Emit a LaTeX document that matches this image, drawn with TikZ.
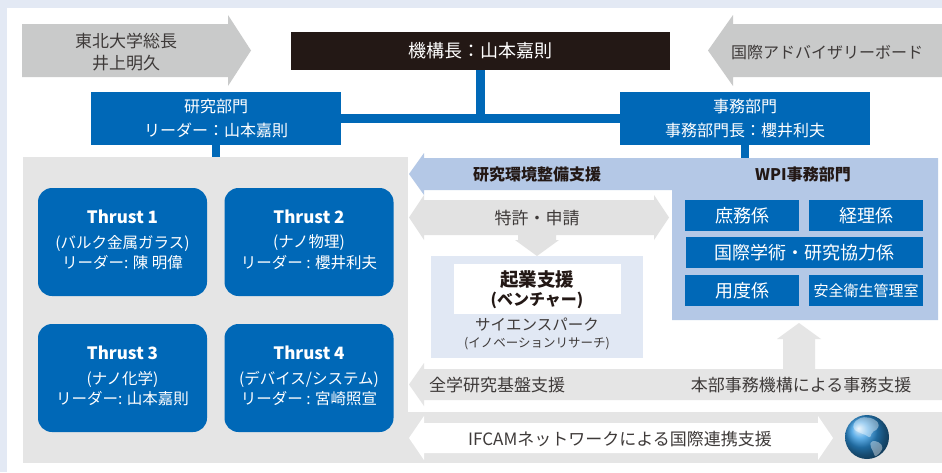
\documentclass[tikz,border=0pt]{standalone}
\usepackage{fontspec}
\setmainfont{Noto Sans CJK JP}

\definecolor{frameblue}{HTML}{E3E9F4}
\definecolor{arrowgray}{HTML}{C9CACA}
\definecolor{inkblack}{HTML}{231815}
\definecolor{corpblue}{HTML}{0068B7}
\definecolor{paleblue}{HTML}{B4C8E6}
\definecolor{bandgray}{HTML}{E5E5E5}
\definecolor{patentgray}{HTML}{E2E2E2}
\definecolor{textgray}{HTML}{3E3A39}
\definecolor{parkblue}{HTML}{E1E8F4}

\newcommand{\fs}[2]{\fontsize{#1}{#2}\selectfont}

\begin{document}
\begin{tikzpicture}[x=1pt,y=-1pt,
  txt/.style={inner sep=0pt, text=textgray, align=center},
  wtxt/.style={inner sep=0pt, text=white, align=center},
  conn/.style={draw=corpblue, line width=8.4pt},
  divbox/.style={fill=corpblue, text=white, align=center, inner sep=0pt,
    minimum width=250pt, minimum height=53pt, font=\fs{16}{24}},
  officebox/.style={fill=corpblue, text=white, inner sep=0pt,
    minimum width=114pt, minimum height=31pt, font=\fs{18}{20}},
  thrustbox/.style={fill=corpblue, rounded corners=14pt, inner sep=0pt,
    minimum width=169pt, minimum height=108pt},
  thead/.style={wtxt, font=\bfseries\fs{17}{20}},
  tline/.style={wtxt, font=\fs{15.5}{18}},
  bandtxt/.style={txt, font=\fs{17}{20}}]

% page frame
\fill[frameblue] (0,0) rectangle (942,472);
\fill[white] (7,8) rectangle (942,472);
\useasboundingbox (0,0) rectangle (942,472);

% external arrows at the top
\fill[arrowgray] (22,24) -- (228,24) -- (228,15) -- (251,50.5) -- (228,86)
  -- (228,77) -- (22,77) -- cycle;
\node[txt, font=\fs{17}{21.5}] (president) at (126,52) {東北大学総長\\井上明久};
\fill[arrowgray] (942,24) -- (733,24) -- (733,15) -- (708,50.5) -- (733,86)
  -- (733,77) -- (942,77) -- cycle;
\node[txt, font=\fs{16}{20}] (board) at (827,52) {国際アドバイザリーボード};

% head of the institute and the two divisions
\node[fill=inkblack, text=white, inner sep=0pt, minimum width=379pt,
  minimum height=38pt, font=\fs{18}{20}] (chief) at (480.5,51) {機構長：山本嘉則};
\node[divbox] (research) at (216,118.5) {研究部門\\リーダー：山本嘉則};
\node[divbox] (admin) at (745,118.5) {事務部門\\事務部門長：櫻井利夫};

% grey research area and bottom band
\fill[bandgray] (23,157) rectangle (408,463);
\fill[bandgray] (408,412) rectangle (942,463);
\coordinate (areatop) at (216,157);

% pale blue WPI office with its support arrow
\fill[paleblue] (409,174) -- (424,153) -- (424,158) -- (938,158) -- (938,320)
  -- (672,320) -- (672,190) -- (424,190) -- (424,195) -- cycle;
\coordinate (wpitop) at (745,158);
\node[txt, text=inkblack, font=\bfseries\fs{16}{20}] (envsupport) at (537,174) {研究環境整備支援};
\node[txt, text=inkblack, font=\bfseries\fs{16}{20}] (wpioffice) at (803,174) {WPI事務部門};

% connectors
\draw[conn] (chief.south) -- (chief.south |- research.east);
\draw[conn] (research.east) -- (admin.west);
\draw[conn, line width=8pt] (research.south) -- (areatop);
\draw[conn, line width=8pt] (admin.south) -- (wpitop);

% office sections
\node[officebox] (general) at (742,215.5) {庶務係};
\node[officebox] (accounting) at (866,215.5) {経理係};
\node[officebox, minimum width=237pt] (intl) at (804.5,252.5) {国際学術・研究協力係};
\node[officebox] (supplies) at (742,290.5) {用度係};
\node[officebox, font=\fs{15}{18}] (safety) at (866,290.5) {安全衛生管理室};

% patents arrow feeding the venture box
\fill[patentgray] (409,217.5) -- (424,195) -- (424,200) -- (654,200) -- (654,195)
  -- (669,217.5) -- (654,240) -- (654,235) -- (556,235) -- (556,240) -- (559,240)
  -- (537,256) -- (515,240) -- (518,240) -- (518,235) -- (424,235) -- (424,240) -- cycle;
\node[txt, font=\fs{17}{20}] (patent) at (537,218) {特許・申請};

% science park
\node[fill=parkblue, inner sep=0pt, minimum width=212pt, minimum height=102pt] (park) at (537,307) {};
\fill[white] (454,264) rectangle (621,314);
\node[txt, text=inkblack, font=\bfseries\fs{18.5}{20}] (venture) at (537,280) {起業支援};
\node[txt, text=inkblack, font=\bfseries\fs{16}{20}] (venturesub) at (537,300) {(ベンチャー)};
\node[txt, font=\fs{15.5}{18}] (parkname) at (537,325) {サイエンスパーク};
\node[txt, font=\fs{12.5}{15}] (parksub) at (537,344) {(イノベーションリサーチ)};

% university-wide support band and its arrow up to the office
\fill[bandgray] (942,369) -- (424,369) -- (424,363) -- (409,384.5) -- (424,406)
  -- (424,400) -- (942,400) -- cycle;
\fill[bandgray] (783,369) -- (783,339) -- (777,339) -- (799,323) -- (821,339)
  -- (815,339) -- (815,369) -- cycle;
\node[bandtxt] (campus) at (497,385) {全学研究基盤支援};
\node[bandtxt] (hq) at (801,385) {本部事務機構による事務支援};

% international network
\fill[white] (409,438) -- (424,416) -- (424,423) -- (818,423) -- (818,416)
  -- (833,438) -- (818,460) -- (818,453) -- (424,453) -- (424,460) -- cycle;
\node[bandtxt] (ifcam) at (620,439) {IFCAMネットワークによる国際連携支援};

% globe
\begin{scope}[shift={(867,437)}]
  \shade[ball color={rgb,255:red,45;green,150;blue,225}] (0,0) circle (22);
  \fill[white, opacity=0.4, rounded corners=2pt]
    (-13,-15) -- (-5,-20) -- (5,-19) -- (12,-14) -- (11,-8) -- (5,-5) -- (3,1)
    -- (-1,-2) -- (-7,-4) -- (-14,-8) -- cycle;
  \fill[white, opacity=0.4, rounded corners=2pt]
    (4,4) -- (10,4) -- (16,9) -- (14,15) -- (8,20) -- (6,14) -- (3,9) -- cycle;
\end{scope}

% research thrusts
\node[thrustbox] (thrustA) at (122.5,242) {};
\node[thead] (thrustAname) at (122.5,217) {Thrust 1};
\node[tline] (thrustAfield) at (122.5,243) {(バルク金属ガラス)};
\node[tline] (thrustAlead) at (122.5,263) {リーダー: 陳 明偉};

\node[thrustbox] (thrustB) at (309,242) {};
\node[thead] (thrustBname) at (309,217) {Thrust 2};
\node[tline] (thrustBfield) at (309,243) {(ナノ物理)};
\node[tline] (thrustBlead) at (309,263) {リーダー : 櫻井利夫};

\node[thrustbox] (thrustC) at (122.5,378) {};
\node[thead] (thrustCname) at (122.5,353) {Thrust 3};
\node[tline] (thrustCfield) at (122.5,379) {(ナノ化学)};
\node[tline] (thrustClead) at (122.5,399) {リーダー: 山本嘉則};

\node[thrustbox] (thrustD) at (309,378) {};
\node[thead] (thrustDname) at (309,353) {Thrust 4};
\node[tline] (thrustDfield) at (309,379) {(デバイス/システム)};
\node[tline] (thrustDlead) at (309,399) {リーダー : 宮崎照宣};
\end{tikzpicture}
\end{document}
